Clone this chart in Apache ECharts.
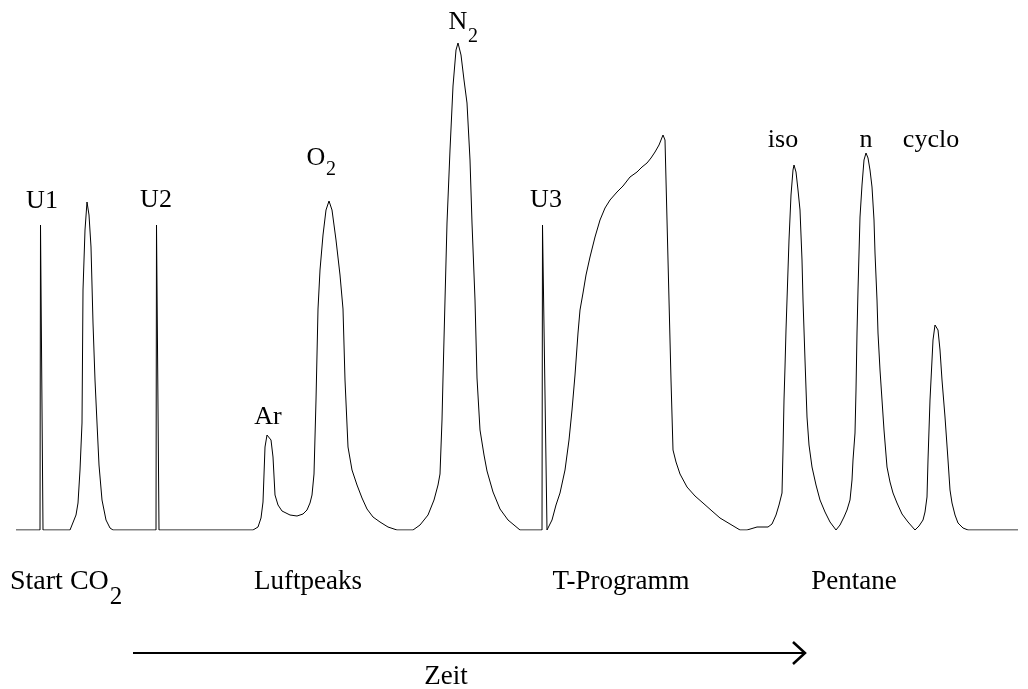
<!DOCTYPE html>
<html>
<head>
<meta charset="utf-8">
<script src="https://cdn.jsdelivr.net/npm/echarts@6/dist/echarts.min.js"></script>
<style>
html,body{margin:0;padding:0;background:#fff;}
#chart{width:1028px;height:689px;}
</style>
</head>
<body>
<div id="chart"></div>
<script>
// Chromatogram: [time, signal] pairs
const baselineStart = [[16, 0]];
const injectU1 = [[40, 0], [40.5, 305], [43, 0]];
const peakCO2 = [[70,0],[72,2],[76,15],[78,27],[80,60],[82,107],[83,240],[85,300],[87,328],[89,315],[91,283],[93,207],[95,150],[97,107],[99,65],[102,30],[106,10],[110,2],[113,0]];
const injectU2 = [[156, 0], [156.5, 305], [159, 0]];
const peakAr = [[253,0],[258,3],[261,12],[263,28],[265,83],[267,95],[269,97],[271,90],[273,73],[275,35],[278,25],[282,19],[290,15],[297,14],[303,16],[307,20],[310,27],[312,35]];
const peakO2 = [[314,56],[316,130],[318,221],[320,260],[323,295],[326,320],[329,329],[332,320],[336,290],[340,255],[343,221],[345,150],[348,83],[352,60],[357,45],[362,32],[367,21],[373,13],[380,8],[388,3],[397,0]];
const peakN2 = [[413,0],[420,5],[428,15],[434,30],[438,45],[440,56],[442,110],[443,152],[445,230],[447,307],[450,380],[453,444],[456,480],[458,487],[461,475],[464,450],[467,427],[470,370],[472,307],[475,230],[477,152],[480,100],[484,75],[487,59],[493,38],[500,21],[508,10],[520,0]];
const injectU3 = [[542, 0], [542.5, 305], [547, 0]];
const humpTProgramm = [[552,10],[556,25],[560,37],[565,60],[569,90],[572,120],[575,155],[578,197],[580,220],[583,237],[586,255],[590,273],[595,293],[600,310],[605,322],[610,330],[617,338],[623,344],[630,353],[637,358],[642,363],[647,367],[651,372],[655,378],[659,385],[663,395],[665,390],[667,310],[669,230],[671,150],[673,80],[676,68],[680,56],[687,43],[695,34],[703,27],[712,19],[720,12],[730,6],[740,0]];
const peakIso = [[747,0],[757,3],[768,3],[772,6],[776,15],[779,25],[782,37],[783,80],[784,130],[785,163],[786,200],[787,230],[789,290],[791,335],[793,360],[794,365],[796,358],[798,340],[800,320],[802,270],[803,230],[805,170],[807,113],[809,85],[812,63],[816,45],[820,30],[825,18],[830,8],[836,0]];
const peakN = [[840,5],[844,13],[847,20],[850,30],[852,50],[853,70],[855,97],[856,140],[857,197],[858,240],[860,313],[862,345],[864,370],[866,377],[868,372],[870,360],[872,343],[874,310],[875,277],[877,230],[878,197],[880,160],[882,130],[884,100],[887,63],[890,48],[893,37],[897,27],[902,16],[908,8],[915,0]];
const peakCyclo = [[919,4],[923,10],[925,18],[927,33],[928,70],[929,100],[930,130],[932,170],[933,190],[935,205],[936,207],[938,200],[940,180],[942,150],[945,113],[948,70],[950,40],[952,27],[955,15],[958,7],[963,2],[968,0]];
const baselineEnd = [[1018, 0]];

const trace = [].concat(baselineStart, injectU1, peakCO2, injectU2, peakAr, peakO2, peakN2,
  injectU3, humpTProgramm, peakIso, peakN, peakCyclo, baselineEnd);

const FONT = '"Liberation Serif", "Times New Roman", serif';

const chart = echarts.init(document.getElementById('chart'), null, {renderer: 'canvas'});

function txt(x, y, s, size, align) {
  return {
    type: 'text', x: x, y: y, silent: true,
    style: {text: s, font: size + 'px ' + FONT, fill: '#000', align: align || 'center', verticalAlign: 'middle'}
  };
}
function measure(s, size) {
  const c = document.createElement('canvas').getContext('2d');
  c.font = size + 'px ' + FONT;
  return c.measureText(s).width;
}

const startText = 'Start CO';
const startEnd = 10 + measure(startText, 28);

const graphics = [
  txt(42, 201, 'U1', 26),
  txt(156, 200, 'U2', 26),
  txt(546, 200, 'U3', 26),
  txt(268, 417, 'Ar', 26),
  txt(316, 158, 'O', 26),
  txt(331, 170, '2', 20),
  txt(458, 22, 'N', 26),
  txt(473, 37, '2', 20),
  txt(783, 140, 'iso', 26),
  txt(866, 140, 'n', 26),
  txt(931, 140, 'cyclo', 26),
  txt(10, 582, startText, 28, 'left'),
  txt(startEnd + 1, 597, '2', 25, 'left'),
  txt(308, 582, 'Luftpeaks', 27),
  txt(621, 582, 'T-Programm', 27),
  txt(854, 582, 'Pentane', 27),
  txt(446, 677, 'Zeit', 27),
  {type: 'line', silent: true, shape: {x1: 133, y1: 653, x2: 804, y2: 653}, style: {stroke: '#000', lineWidth: 2}},
  {type: 'polyline', silent: true, shape: {points: [[793, 642], [805, 653], [793, 664]]}, style: {stroke: '#000', lineWidth: 2.5, fill: null}}
];

chart.setOption({
  animation: false,
  backgroundColor: '#fff',
  grid: {left: 0, right: 0, top: 0, bottom: 159, containLabel: false},
  xAxis: {type: 'value', min: 0, max: 1028, show: false},
  yAxis: {type: 'value', min: 0, max: 530, show: false},
  series: [{
    type: 'line',
    data: trace,
    showSymbol: false,
    symbol: 'none',
    smooth: false,
    lineStyle: {color: '#000', width: 1},
    silent: true
  }],
  graphic: graphics
});
</script>
</body>
</html>
